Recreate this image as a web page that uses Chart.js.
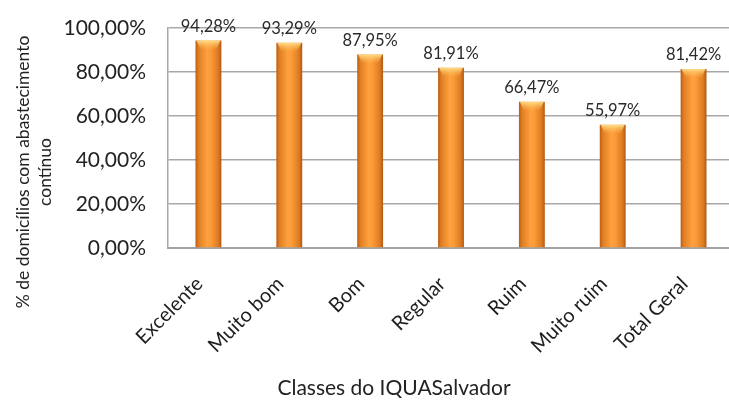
<!DOCTYPE html>
<html>
<head>
<meta charset="utf-8">
<script src="https://cdn.jsdelivr.net/npm/chart.js@4.4.1/dist/chart.umd.min.js"></script>
<style>
  html, body { margin: 0; padding: 0; background: #fff; overflow: hidden; }
  #wrap { width: 729px; height: 406px; overflow: hidden; }
  #box { width: 735px; height: 406px; position: relative; }
</style>
</head>
<body>
<div id="wrap"><div id="box"><canvas id="chart"></canvas></div></div>
<script>
// data
const classes = ['Excelente', 'Muito bom', 'Bom', 'Regular', 'Ruim', 'Muito ruim', 'Total Geral'];
const shares = [94.28, 93.29, 87.95, 81.91, 66.47, 55.97, 81.42];
const yTicks = [0, 20, 40, 60, 80, 100];
const yTitle = ['% de domicílios com abastecimento', 'contínuo'];
const xTitle = 'Classes do IQUASalvador';

const FONT = 'Lato, "Open Sans", sans-serif';
const fmt = v => v.toFixed(2).replace('.', ',') + '%';
const BAR_PCT = 0.32;

// cylinder-ish shading across each bar
function barFill(ctx) {
  const chart = ctx.chart;
  const xs = chart.scales.x;
  if (!xs || !chart.chartArea) return '#f39030';
  const cx = xs.getPixelForValue(ctx.dataIndex);
  const w = xs.width / classes.length * BAR_PCT;
  const g = chart.ctx.createLinearGradient(cx - w / 2, 0, cx + w / 2, 0);
  g.addColorStop(0, '#b95d17');
  g.addColorStop(0.12, '#e07e22');
  g.addColorStop(0.45, '#ffa13f');
  g.addColorStop(0.6, '#fb9a38');
  g.addColorStop(0.88, '#dc7a20');
  g.addColorStop(1, '#b25815');
  return g;
}

const extras = {
  id: 'extras',
  afterDatasetsDraw(chart) {
    const c = chart.ctx;
    const meta = chart.getDatasetMeta(0);
    c.save();
    meta.data.forEach((el, i) => {
      const w = el.width, x0 = el.x - w / 2;
      // light cap at the top of the bar
      const cap = c.createLinearGradient(0, el.y, 0, el.y + 9);
      cap.addColorStop(0, 'rgba(255,225,140,0.95)');
      cap.addColorStop(1, 'rgba(255,190,90,0)');
      c.fillStyle = cap;
      c.beginPath();
      c.moveTo(x0 + 1, el.y);
      c.lineTo(x0 + w - 1, el.y);
      c.lineTo(x0 + w - 5, el.y + 9);
      c.lineTo(x0 + 5, el.y + 9);
      c.closePath();
      c.fill();
      // value label
      c.fillStyle = '#2a2a2a';
      c.font = '16.5px ' + FONT;
      c.textAlign = 'center';
      c.textBaseline = 'bottom';
      c.fillText(fmt(shares[i]), el.x, el.y - 6);
    });
    // axis titles
    c.fillStyle = '#222';
    c.font = '17.5px ' + FONT;
    c.textAlign = 'center';
    c.textBaseline = 'middle';
    c.save();
    c.translate(23, 172);
    c.rotate(-Math.PI / 2);
    c.fillText(yTitle[0], 0, 0);
    c.fillText(yTitle[1], 0, 22);
    c.restore();
    c.font = '21px ' + FONT;
    c.fillText(xTitle, 394, 388);
    c.restore();
  }
};

new Chart(document.getElementById('chart'), {
  type: 'bar',
  data: {
    labels: classes,
    datasets: [{
      data: shares,
      backgroundColor: barFill,
      borderWidth: 0,
      barPercentage: BAR_PCT,
      categoryPercentage: 1
    }]
  },
  options: {
    responsive: true,
    maintainAspectRatio: false,
    animation: false,
    layout: { padding: { top: 28, right: 1, left: 0, bottom: 0 } },
    plugins: { legend: { display: false }, tooltip: { enabled: false } },
    scales: {
      x: {
        grid: { display: false },
        border: { display: true, color: '#a3a3a3', width: 2 },
        ticks: {
          autoSkip: false,
          minRotation: 45,
          maxRotation: 45,
          padding: 16,
          labelOffset: -9,
          color: '#1e1e1e',
          font: { family: FONT, size: 20 }
        },
        afterFit: s => { s.height = 158; }
      },
      y: {
        min: 0,
        max: 100,
        afterBuildTicks: s => { s.ticks = yTicks.map(v => ({ value: v })); },
        grid: { color: '#a8a8a8', lineWidth: 1.5, drawTicks: true, tickLength: 22, tickColor: 'rgba(0,0,0,0)' },
        border: { display: true, color: '#a8a8a8', width: 1.5 },
        ticks: {
          padding: 0,
          color: '#222',
          font: { family: FONT, size: 21 },
          callback: v => fmt(v)
        },
        afterFit: s => { s.width = 168; }
      }
    }
  },
  plugins: [extras]
});
</script>
</body>
</html>
